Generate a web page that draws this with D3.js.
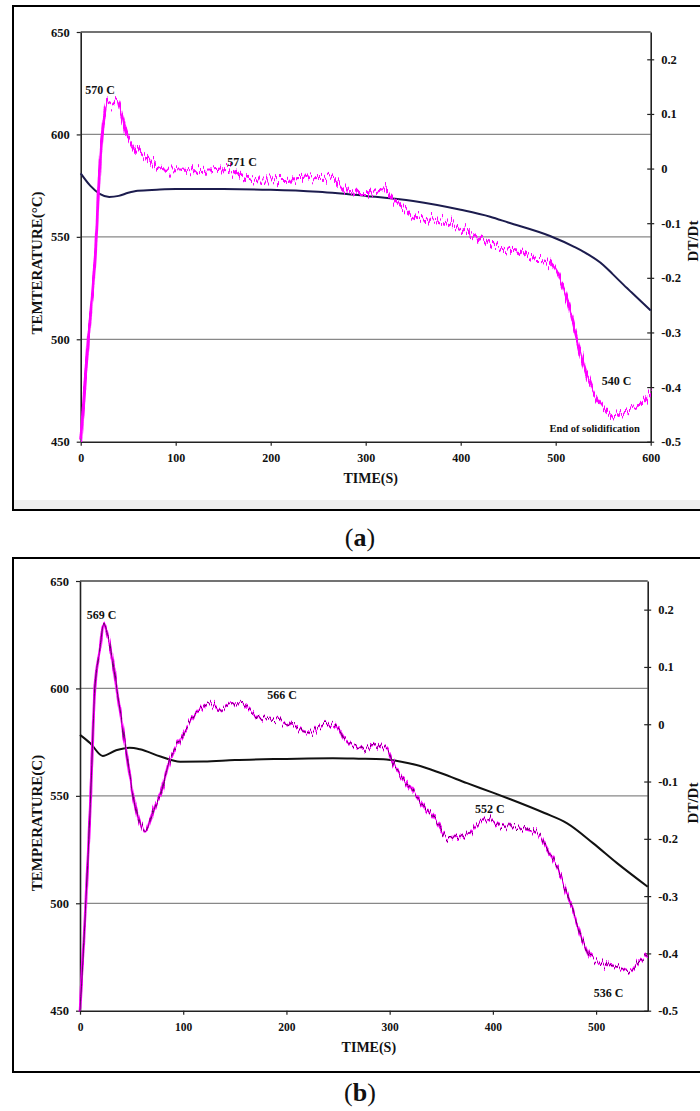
<!DOCTYPE html>
<html>
<head>
<meta charset="utf-8">
<script src="https://cdn.jsdelivr.net/npm/d3@7"></script>
<style>
  body { margin: 0; background: #fff; }
  svg { display: block; }
  text { font-family: "Liberation Serif", "Times New Roman", serif; font-weight: bold; fill: #111; }
</style>
</head>
<body>
<div id="app"></div>
<script>
// Cooling curve (left axis, deg C) and its derivative DT/Dt (right axis), two casts.

// ---- panel (a) ----
var timeTempA = [0, 10, 20, 30, 40, 50, 60, 80, 100, 150, 200, 250, 300, 350, 400, 431, 450, 494, 520, 529, 550, 560, 575, 580, 600];
var tempA     = [581, 575, 571, 569.5, 570, 571.5, 572.5, 573, 573.3, 573.3, 573, 572, 570, 567.5, 563.2, 559.8, 557, 550.4, 545, 542.8, 536.3, 531.8, 525, 522.8, 514];
var timeRateA = [0, 8, 15, 20, 25, 28, 33, 38, 43, 48, 55, 62, 70, 80, 90, 100, 120, 140, 154, 170, 189, 210, 231, 259, 270, 280, 300, 318, 325, 339, 350, 371, 400, 424, 444, 459, 480, 487, 501, 512, 522, 529, 540, 550, 560, 575, 589, 600];
var rateA     = [-0.5, -0.31, -0.17, 0.0, 0.1, 0.122, 0.118, 0.125, 0.1, 0.065, 0.04, 0.028, 0.018, 0.003, -0.003, -0.002, -0.004, -0.002, 0.0, -0.012, -0.021, -0.02, -0.018, -0.016, -0.025, -0.043, -0.046, -0.035, -0.05, -0.07, -0.085, -0.094, -0.11, -0.131, -0.146, -0.149, -0.166, -0.167, -0.19, -0.24, -0.308, -0.356, -0.411, -0.437, -0.451, -0.442, -0.433, -0.411];
var notesA = [
  {text: "570 C", t: 20.3, v: 619.7},
  {text: "571 C", t: 170, v: 584.6},
  {text: "540 C", t: 564, v: 477.7},
  {text: "End of solidification", t: 541, v: 454.7, small: true}
];

// ---- panel (b) ----
var timeTempB = [0, 10, 22, 35, 48, 58, 78, 97, 120, 150, 200, 245, 270, 294, 310, 326, 350, 375, 400, 417, 450, 472, 497, 520, 550];
var tempB     = [578.4, 574.5, 568.6, 571.2, 572.4, 571.7, 568.3, 565.9, 566, 566.7, 567.2, 567.5, 567.3, 567, 566, 564.4, 560.5, 555.9, 551.5, 548.4, 542, 537.2, 528, 518.8, 507.7];
var timeRateB = [0, 5.8, 10, 14.5, 19.4, 22.6, 27.4, 32, 38, 45, 51.5, 57, 63, 68, 74, 77.5, 87, 97, 106.6, 116, 126, 135.7, 145, 155, 174, 197, 223, 235.5, 245, 258.5, 274, 287, 297, 303, 316, 326, 336, 346, 355.6, 365, 375, 384.5, 394, 407, 426, 443, 452.5, 462, 475, 484.5, 494, 504, 520, 533, 542.6, 550];
var rateB     = [-0.5, -0.306, -0.14, 0.066, 0.13, 0.174, 0.151, 0.107, 0.031, -0.05, -0.126, -0.165, -0.187, -0.165, -0.137, -0.126, -0.062, -0.027, 0.0025, 0.026, 0.037, 0.026, 0.034, 0.037, 0.014, 0.005, -0.015, -0.0005, 0, -0.03, -0.044, -0.038, -0.044, -0.067, -0.102, -0.126, -0.15, -0.172, -0.198, -0.196, -0.193, -0.175, -0.164, -0.178, -0.181, -0.19, -0.219, -0.248, -0.312, -0.365, -0.406, -0.417, -0.423, -0.432, -0.411, -0.403];
var notesB = [
  {text: "569 C", t: 20.8, v: 632.3},
  {text: "566 C", t: 195.7, v: 595},
  {text: "552 C", t: 397, v: 542},
  {text: "536 C", t: 512, v: 456.5}
];

var tempTicks = [450, 500, 550, 600, 650];
var rateTicks = [-0.5, -0.4, -0.3, -0.2, -0.1, 0, 0.1, 0.2];

var W = 700, H = 1111;
var svg = d3.select("#app").append("svg").attr("width", W).attr("height", H);
var defs = svg.append("defs");

// vertical jitter for the noisy DT/Dt trace
function addJitter (id, freq, amount)
{
	var f = defs.append("filter").attr("id", id)
		.attr("x", "-5%").attr("y", "-10%").attr("width", "110%").attr("height", "120%")
		.attr("color-interpolation-filters", "sRGB");
	f.append("feTurbulence").attr("type", "fractalNoise")
		.attr("baseFrequency", freq).attr("numOctaves", 2).attr("seed", 7).attr("result", "n");
	f.append("feColorMatrix").attr("in", "n").attr("type", "matrix")
		.attr("values", "0 0 0 0 0.5  0 1 0 0 0  0 0 0 0 0.5  0 0 0 0 1").attr("result", "m");
	f.append("feDisplacementMap").attr("in", "SourceGraphic").attr("in2", "m")
		.attr("scale", amount).attr("xChannelSelector", "R").attr("yChannelSelector", "G");
}
addJitter("jitA", "0.6 0.03", 22);
addJitter("jitB", "0.5 0.03", 16);

function frame (top, bottom, band)
{
	if (band)
		svg.append("rect").attr("x", 14).attr("y", bottom - 10).attr("width", W - 14).attr("height", 9).attr("fill", "#efefef");
	svg.append("path")
		.attr("d", "M" + W + "," + top + "H13V" + bottom + "H" + W)
		.attr("fill", "none").attr("stroke", "#000").attr("stroke-width", 2);
}

function panel (p)
{
	var x = d3.scaleLinear().domain([0, p.xMax]).range([p.left, p.right]);
	var yT = d3.scaleLinear().domain([450, 650]).range([p.bottom, p.top]);
	var yD = d3.scaleLinear().domain([-0.5, 0.25]).range([p.bottom, p.top]);
	var g = svg.append("g");

	// gridlines + top border
	g.selectAll("line.grid").data([500, 550, 600, 650]).enter().append("line")
		.attr("x1", p.left).attr("x2", p.right)
		.attr("y1", function (d) {return yT(d);}).attr("y2", function (d) {return yT(d);})
		.attr("stroke", function (d) {return d == 650 ? "#444" : "#888";}).attr("stroke-width", 1.3);

	var ax = g.append("g").attr("transform", "translate(0," + p.bottom + ")")
		.call(d3.axisBottom(x).tickValues(d3.range(0, p.xMax + 1, 100)).tickSize(4).tickSizeOuter(0).tickPadding(7.8));
	ax.selectAll("text").style("font-size", p.xFont + "px");

	var al = g.append("g").attr("transform", "translate(" + p.left + ",0)")
		.call(d3.axisLeft(yT).tickValues(tempTicks).tickSize(4).tickSizeOuter(0).tickPadding(7));
	al.selectAll("text").style("font-size", "12.5px");

	var ar = g.append("g").attr("transform", "translate(" + p.right + ",0)")
		.call(d3.axisRight(yD).tickValues(rateTicks).tickSize(3.5).tickSizeOuter(0).tickPadding(7)
			.tickFormat(function (d) {return d === 0 ? "0" : String(+d.toFixed(1));}));
	ar.selectAll("line").attr("x1", -3.5);
	ar.selectAll("text").style("font-size", "12.5px");

	[ax, al, ar].forEach(function (a) {
		a.select(".domain").attr("stroke", "#222").attr("stroke-width", 1.6);
		a.selectAll(".tick line").attr("stroke", "#222").attr("stroke-width", 1.2);
	});

	// temperature
	var tempLine = d3.line().x(function (d) {return x(d[0]);}).y(function (d) {return yT(d[1]);}).curve(d3.curveMonotoneX);
	g.append("path").datum(d3.zip(p.tTime, p.temp))
		.attr("d", tempLine).attr("fill", "none").attr("stroke", p.tempColor).attr("stroke-width", 2);

	// DT/Dt
	var rateLine = d3.line().x(function (d) {return x(d[0]);}).y(function (d) {return yD(d[1]);}).curve(d3.curveMonotoneX);
	var rd = d3.zip(p.rTime, p.rate);
	g.append("path").datum(rd)
		.attr("d", rateLine).attr("fill", "none").attr("stroke", "#ff00ff").attr("stroke-width", p.rateWidth)
		.attr("filter", "url(#" + p.jit + ")");
	if (p.core)
		g.append("path").datum(rd)
			.attr("d", rateLine).attr("fill", "none").attr("stroke", p.core).attr("stroke-width", 0.9)
			.attr("filter", "url(#" + p.jit + ")");

	// annotations
	g.selectAll("text.note").data(p.notes).enter().append("text")
		.attr("x", function (d) {return x(d.t);}).attr("y", function (d) {return yT(d.v);})
		.attr("text-anchor", "middle")
		.style("font-size", function (d) {return d.small ? "10.5px" : "12px";})
		.text(function (d) {return d.text;});

	// axis titles
	g.append("text").attr("x", (p.left + p.right) / 2 + 5).attr("y", p.bottom + 41.5)
		.attr("text-anchor", "middle").style("font-size", "14px").text("TIME(S)");
	g.append("text").attr("transform", "translate(42," + p.yTitleMid + ") rotate(-90)")
		.attr("text-anchor", "middle").style("font-size", "15px").text(p.yTitle);
	g.append("text").attr("transform", "translate(698," + p.rTitleMid + ") rotate(-90)")
		.attr("text-anchor", "middle").style("font-size", "15px").text("DT/Dt");
}

function caption (letter, y)
{
	var t = svg.append("text").attr("x", 360).attr("y", y).attr("text-anchor", "middle")
		.style("font-size", "26px").style("font-weight", "normal");
	t.append("tspan").text("(");
	t.append("tspan").style("font-weight", "bold").text(letter);
	t.append("tspan").text(")");
}

frame(6, 510, true);
panel({left: 80.7, right: 650.7, top: 32, bottom: 441.7, xMax: 600, xFont: 12,
	tTime: timeTempA, temp: tempA, rTime: timeRateA, rate: rateA, notes: notesA,
	tempColor: "#1c1c4e", rateWidth: 3, jit: "jitA", core: null,
	yTitle: "TEMTERATURE(°C)", yTitleMid: 263, rTitleMid: 241});
caption("a", 546);

frame(558, 1072, false);
panel({left: 80, right: 647.7, top: 581, bottom: 1010.7, xMax: 550, xFont: 11.5,
	tTime: timeTempB, temp: tempB, rTime: timeRateB, rate: rateB, notes: notesB,
	tempColor: "#111", rateWidth: 2.8, jit: "jitB", core: "#4a0a4a",
	yTitle: "TEMPERATURE(C)", yTitleMid: 823, rTitleMid: 803});
caption("b", 1101);
</script>
</body>
</html>
